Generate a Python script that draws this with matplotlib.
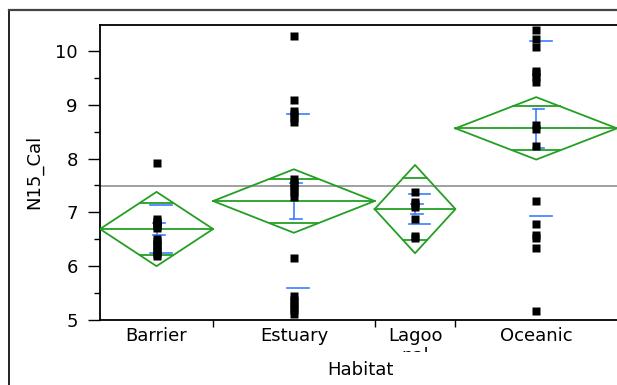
import matplotlib
matplotlib.use("Agg")
import matplotlib.pyplot as plt
from matplotlib.lines import Line2D
from matplotlib.transforms import Bbox, TransformedBbox
import numpy as np

plt.rcParams["font.family"] = ["DejaVu Sans"]

# Data.
habitats = ["Barrier", "Estuary", "Lagoonal", "Oceanic"]
tick_labels = ["Barrier", "Estuary", "Lagoo\nnal", "Oceanic"]
counts = [14, 20, 10, 20]

barrier = [7.91, 6.87, 6.84, 6.80, 6.77, 6.74, 6.71, 6.51, 6.46, 6.42,
           6.37, 6.32, 6.27, 6.22, 6.18]
estuary = [10.28, 9.08, 8.89, 8.83, 8.76, 8.67, 7.61, 7.55, 7.50, 7.44,
           7.38, 7.28, 6.15, 5.44, 5.38, 5.31, 5.25, 5.18, 5.12]
lagoonal = [7.37, 7.20, 7.15, 7.10, 6.87, 6.56, 6.52]
oceanic = [10.38, 10.22, 10.07, 9.62, 9.58, 9.51, 9.42, 8.63, 8.54, 8.23,
           7.21, 6.78, 6.58, 6.52, 6.33, 5.16]

means = [6.69, 7.21, 7.06, 8.56]
ci_half = [0.69, 0.59, 0.82, 0.58]
std_devs = [0.45, 1.61, 0.28, 1.62]
std_errs = [0.105, 0.33, 0.09, 0.36]
grand_mean = 7.49

GREEN = "#23a023"
BLUE = "#3d7bff"


def main():
    fig = plt.figure(figsize=(6.17, 3.85), dpi=100)
    ax = fig.add_axes([100 / 617, 65 / 385, 517 / 617, 295 / 385])

    # outer report frame
    fy = 1 - 10 / 385
    fx = 9 / 617
    fig.add_artist(Line2D([fx, fx], [0, fy], transform=fig.transFigure,
                          color="#222222", lw=1.4))
    fig.add_artist(Line2D([fx, 1], [fy, fy], transform=fig.transFigure,
                          color="#444444", lw=1.6))

    edges = np.concatenate([[0], np.cumsum(counts)])
    centers = (edges[:-1] + edges[1:]) / 2

    ax.axhline(grand_mean, color="#999999", lw=1.3, zorder=1)

    groups = [barrier, estuary, lagoonal, oceanic]
    for i, vals in enumerate(groups):
        c = centers[i]
        left, right = edges[i], edges[i + 1]
        hw = (right - left) / 2
        m = means[i]
        h = ci_half[i]

        # means diamond
        ax.plot([left, c, right, c, left], [m, m + h, m, m - h, m],
                color=GREEN, lw=1.3, zorder=3)
        ax.plot([left, right], [m, m], color=GREEN, lw=1.3, zorder=3)
        ov = h * np.sqrt(2) / 2
        ow = hw * (1 - ov / h)
        for y in (m + ov, m - ov):
            ax.plot([c - ow, c + ow], [y, y], color=GREEN, lw=1.3, zorder=3)

        # std dev lines
        for y in (m + std_devs[i], m - std_devs[i]):
            ax.plot([c - 0.8, c + 1.9], [y, y], color=BLUE, lw=1.2, zorder=4)

        # std error bar
        se = std_errs[i]
        ax.plot([c, c], [m - se, m + se], color=BLUE, lw=1.2, zorder=4)
        for y in (m + se, m - se):
            ax.plot([c - 0.45, c + 1.0], [y, y], color=BLUE, lw=1.2, zorder=4)

        ax.plot([c] * len(vals), vals, "s", color="black", ms=5.3,
                mec="none", zorder=5)

    ax.set_xlim(0, edges[-1])
    ax.set_ylim(5, 10.48)

    ax.set_yticks([5, 6, 7, 8, 9, 10])
    ax.set_yticks(np.arange(5.5, 10.5, 1.0), minor=True)
    ax.tick_params(axis="y", which="major", length=9, width=1, pad=7,
                   labelsize=13)
    ax.tick_params(axis="y", which="minor", length=4.5, width=1)

    ax.set_xticks(centers)
    ax.set_xticklabels(tick_labels)
    ax.set_xticks(edges[1:-1], minor=True)
    ax.tick_params(axis="x", which="major", length=0, pad=5, labelsize=13)
    ax.tick_params(axis="x", which="minor", length=5, width=1)
    for lab in ax.get_xticklabels():
        lab.set_linespacing(1.15)
        if "\n" in lab.get_text():
            lab.set_clip_box(TransformedBbox(
                Bbox([[0, 1 - 352 / 385], [1, 1]]), fig.transFigure))
            lab.set_clip_on(True)

    for side in ("left", "bottom", "top"):
        ax.spines[side].set_linewidth(1.3)
    ax.spines["right"].set_visible(False)

    fig.text(34 / 617, 1 - 172 / 385, "N15_Cal", rotation=90,
             ha="center", va="center", fontsize=13)
    fig.text(360 / 617, 1 - 375 / 385, "Habitat", ha="center",
             va="baseline", fontsize=13)

    fig.savefig("out.png", dpi=100)


if __name__ == "__main__":
    main()
